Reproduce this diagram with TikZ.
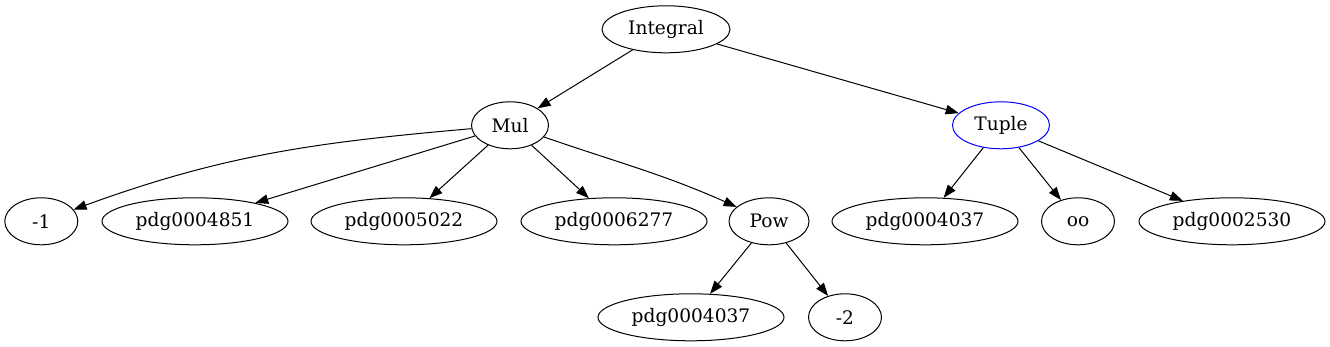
\documentclass[tikz,border=0pt]{standalone}
\usepackage{fontspec}
\setmainfont{DejaVu Serif}
\usetikzlibrary{shapes.geometric,arrows.meta}
\begin{document}
\begin{tikzpicture}[x=1pt,y=1pt,
  nd/.style={ellipse,draw,line width=1pt,inner sep=0pt,minimum height=47pt,font=\fontsize{18.6}{22}\selectfont},
  small/.style={nd,minimum width=73pt},
  wide/.style={nd,minimum width=186pt},
  edge/.style={draw,line width=1pt,-{Triangle[length=13pt,width=9.5pt]}}]
\useasboundingbox (0,0) rectangle (1330,-347);
\node[nd,minimum width=128pt] (int) at (666,-29.3) {Integral};
\node[nd,minimum width=77pt] (mul) at (510,-125.3) {Mul};
\node[nd,minimum width=97pt,draw=blue] (tup) at (1001,-125.3) {Tuple};
\node[small] (m1) at (41.3,-221.3) {-1};
\node[wide] (p4851) at (195,-221.3) {pdg0004851};
\node[wide] (p5022) at (404,-221.3) {pdg0005022};
\node[wide] (p6277) at (614,-221.3) {pdg0006277};
\node[nd,minimum width=80pt] (pow) at (769,-221.3) {Pow};
\node[wide] (p4037a) at (925,-221.3) {pdg0004037};
\node[small] (oo) at (1078,-221.3) {oo};
\node[wide] (p2530) at (1232,-221.3) {pdg0002530};
\node[wide] (p4037b) at (691,-317.3) {pdg0004037};
\node[small] (m2) at (845,-317.3) {-2};
\path[edge] (int) -- (mul);
\path[edge] (int) -- (tup);
\path[edge] (mul) to[out=185,in=20] (m1);
\path[edge] (mul) -- (p4851);
\path[edge] (mul) -- (p5022);
\path[edge] (mul) -- (p6277);
\path[edge] (mul) to[out=-19,in=156] (pow);
\path[edge] (tup) -- (p4037a);
\path[edge] (tup) -- (oo);
\path[edge] (tup) -- (p2530);
\path[edge] (pow) -- (p4037b);
\path[edge] (pow) -- (m2);
\end{tikzpicture}
\end{document}
